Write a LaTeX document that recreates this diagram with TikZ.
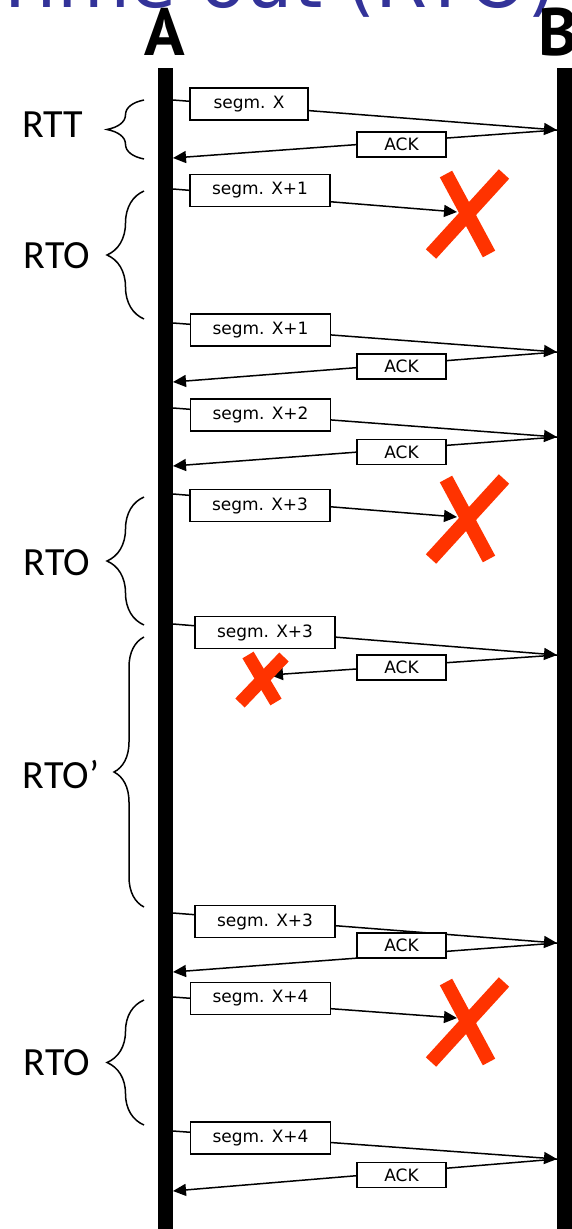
\documentclass[tikz,border=0pt]{standalone}
\usepackage{fontspec}
\usepackage{tikz}
\usetikzlibrary{arrows.meta}
\usetikzlibrary{decorations.pathreplacing}
\newfontfamily\boxfont{DejaVu Sans}
\newfontfamily\bracefont{Carlito}
\newfontfamily\hostfont{PT Sans}
\definecolor{lostred}{RGB}{255,51,0}
\definecolor{titleblue}{RGB}{51,51,153}

\begin{document}
\begin{tikzpicture}[x=1pt,y=-1pt]
\tikzset{
    lifeline/.style={line width=15pt},
    msg/.style={line width=1.5pt, -{Triangle[length=13pt,width=12pt]}},
    segbox/.style={draw, line width=1.5pt, fill=white, inner sep=0pt,
        minimum width=140pt, minimum height=32pt,
        font=\boxfont\fontsize{17}{17}\selectfont},
    ackbox/.style={segbox, minimum width=89pt, minimum height=25pt},
    lost/.style={draw=lostred, line width=14pt},
    timebrace/.style={decorate, decoration={brace, amplitude=#1}, line width=1.5pt},
    timelabel/.style={font=\bracefont\fontsize{40}{40}\selectfont},
    host/.style={anchor=base, inner sep=0pt, font=\hostfont\bfseries\fontsize{67}{67}\selectfont}
}
\useasboundingbox (0,0) rectangle (572,1229);

    % 标题 (上半部分被裁掉)
    \node[anchor=base east, inner sep=0pt, text=titleblue,
        font=\boxfont\fontsize{75}{75}\selectfont] (title) at (557,7) {Time out (RTO)};

    % 主机 A 和 B 的时间线
    \node[host] (hostA) at (164.5,55) {A};
    \node[host, anchor=base west] (hostB) at (538,55) {B};
    \coordinate (Atop) at (165.5,68);
    \coordinate (Abot) at (165.5,1229);
    \coordinate (Btop) at (564.5,68);
    \coordinate (Bbot) at (564.5,1229);
    \draw[lifeline] (Atop) -- (Abot);
    \draw[lifeline] (Btop) -- (Bbot);

% 时间间隔的大括号
\draw[timebrace=37pt] (144,159) -- (144,100);
\node[timelabel] (rtt) at (53,125) {RTT};
\draw[timebrace=37pt] (144,319) -- (144,191);
\node[timelabel] (rto1) at (57,255.5) {RTO};
\draw[timebrace=37pt] (144,625) -- (144,497);
\node[timelabel] (rto2) at (57,563) {RTO};
\draw[timebrace=30pt] (144,907) -- (144,637);
\node[timelabel] (rto3) at (61,775) {RTO’};
\draw[timebrace=37pt] (144,1125) -- (144,1000);
\node[timelabel] (rto4) at (57,1063) {RTO};

% 报文段与确认
\coordinate (tx1) at (173,100);
\coordinate (rx1) at (557,130);
\coordinate (ak1) at (173,158);
\draw[msg] (tx1) -- (rx1);
\draw[msg] (rx1) -- (ak1);
\node[segbox, minimum width=118pt] (seg1) at (249,104) {segm. X};
\node[ackbox] (ack1) at (401.5,144.5) {ACK};

\coordinate (tx2) at (173,189);
\coordinate (lost2) at (457,212);
\draw[msg] (tx2) -- (lost2);
\node[segbox] (seg2) at (260,190.5) {segm. X+1};

\coordinate (tx3) at (173,323);
\coordinate (rx3) at (557,352);
\coordinate (ak3) at (173,382);
\draw[msg] (tx3) -- (rx3);
\draw[msg] (rx3) -- (ak3);
\node[segbox] (seg3) at (260.5,330) {segm. X+1};
\node[ackbox] (ack3) at (401.5,366.5) {ACK};

\coordinate (tx4) at (173,408);
\coordinate (rx4) at (557,437);
\coordinate (ak4) at (173,466);
\draw[msg] (tx4) -- (rx4);
\draw[msg] (rx4) -- (ak4);
\node[segbox] (seg4) at (260.5,415) {segm. X+2};
\node[ackbox] (ack4) at (401.5,452) {ACK};

\coordinate (tx5) at (173,494);
\coordinate (lost5) at (457,517);
\draw[msg] (tx5) -- (lost5);
\node[segbox] (seg5) at (260,505.5) {segm. X+3};

\coordinate (tx6) at (173,624);
\coordinate (rx6) at (557,655);
\coordinate (lost6) at (270,675);
\draw[msg] (tx6) -- (rx6);
\draw[msg] (rx6) -- (lost6);
\node[segbox] (seg6) at (265,632.5) {segm. X+3};
\node[ackbox] (ack6) at (401.5,667.5) {ACK};

\coordinate (tx7) at (173,913);
\coordinate (rx7) at (557,943);
\coordinate (ak7) at (173,972);
\draw[msg] (tx7) -- (rx7);
\draw[msg] (rx7) -- (ak7);
\node[segbox] (seg7) at (265,921.5) {segm. X+3};
\node[ackbox] (ack7) at (401.5,945.5) {ACK};

\coordinate (tx8) at (173,997);
\coordinate (lost8) at (457,1018);
\draw[msg] (tx8) -- (lost8);
\node[segbox] (seg8) at (260.5,998.5) {segm. X+4};

\coordinate (tx9) at (173,1131);
\coordinate (rx9) at (557,1159);
\coordinate (ak9) at (173,1191);
\draw[msg] (tx9) -- (rx9);
\draw[msg] (rx9) -- (ak9);
\node[segbox] (seg9) at (260.5,1138) {segm. X+4};
\node[ackbox] (ack9) at (401.5,1175) {ACK};

% 丢失的报文 (红叉)
\draw[lost] (446,174) -- (489,254);
\draw[lost] (504,174) -- (431,254);
\draw[lost] (446,479) -- (489,559);
\draw[lost] (504,479) -- (431,559);
\draw[lost, line width=13pt] (248,655) -- (276,702);
\draw[lost, line width=13pt] (284,657) -- (240,703);
\draw[lost] (446,982) -- (489,1062);
\draw[lost] (504,982) -- (431,1062);

\end{tikzpicture}
\end{document}
